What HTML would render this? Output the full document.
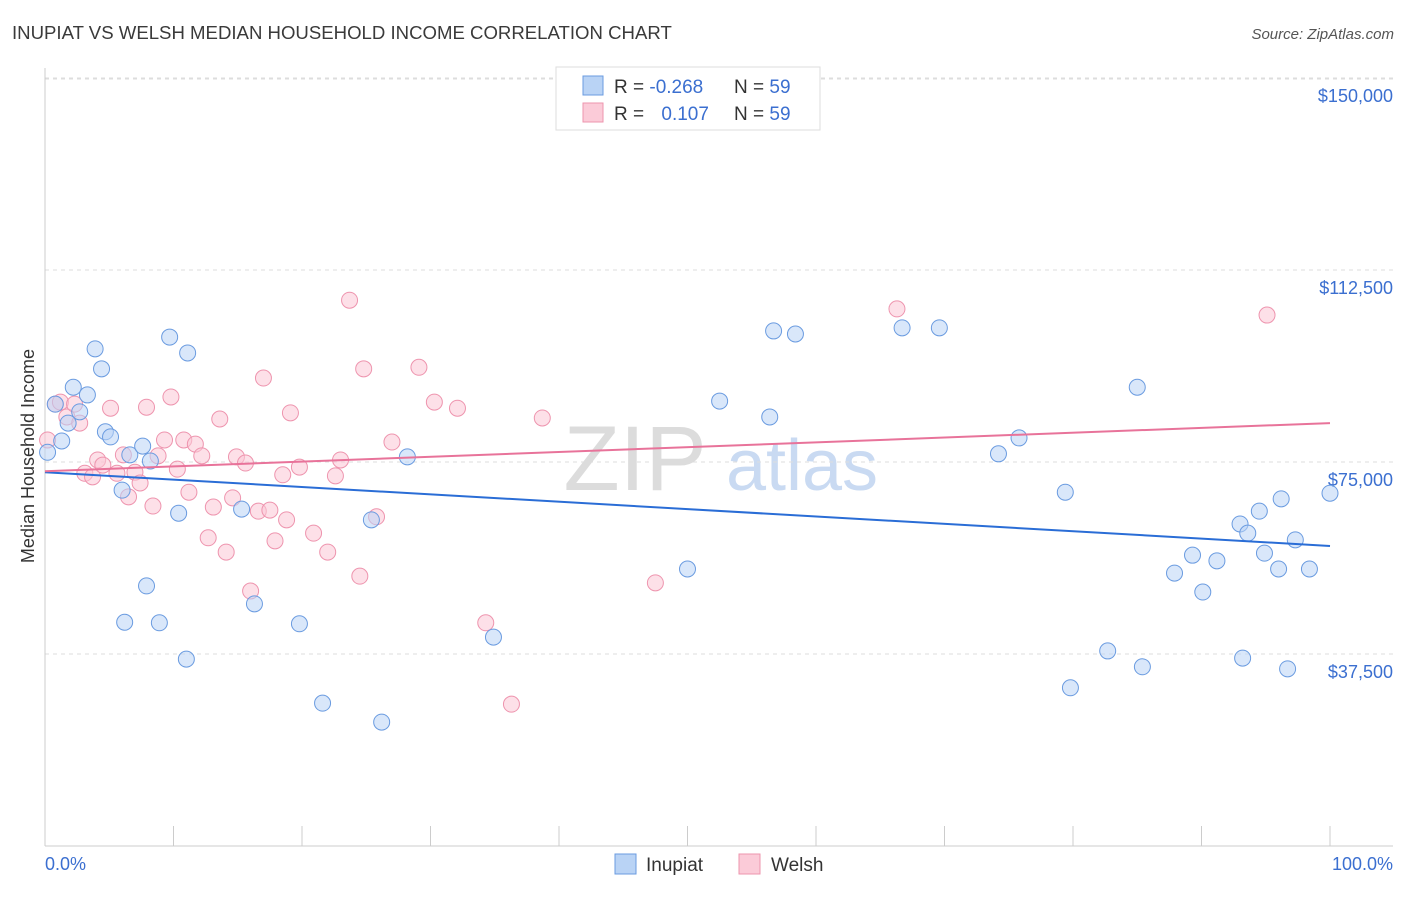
<!DOCTYPE html>
<html><head><meta charset="utf-8"><style>
body{margin:0;background:#fff;font-family:"Liberation Sans",sans-serif;}
svg text{font-family:"Liberation Sans",sans-serif;}
</style></head><body>
<svg width="1406" height="892" viewBox="0 0 1406 892" xmlns="http://www.w3.org/2000/svg">
<text x="12" y="39" font-size="18.6" fill="#3a3a3a">INUPIAT VS WELSH MEDIAN HOUSEHOLD INCOME CORRELATION CHART</text>
<text x="1394" y="39" font-size="15" fill="#555" text-anchor="end" font-style="italic">Source: ZipAtlas.com</text>
<g>
<text x="635" y="490" font-size="92" fill="#dcdcdc" font-family="Liberation Serif" text-anchor="middle">ZIP</text>
<text x="802" y="490" font-size="72" fill="#c9daf2" text-anchor="middle">atlas</text>
</g>
<g id="grid"></g>
<g id="axes"></g>
<g id="marks"></g>
<text transform="translate(34,456) rotate(-90)" font-size="18" fill="#333" text-anchor="middle">Median Household Income</text>
<text x="45" y="870" font-size="18" fill="#3b6fd0">0.0%</text>
<text x="1393" y="870" font-size="18" fill="#3b6fd0" text-anchor="end">100.0%</text>
<g>
<rect x="556" y="67" width="264" height="63" fill="#fff" stroke="#ddd"/>
<rect x="583" y="76" width="20" height="19" fill="#b9d3f5" stroke="#6a9be0"/>
<rect x="583" y="103" width="20" height="19" fill="#fbcbd8" stroke="#ee94ae"/>
<text x="614" y="93" font-size="19" fill="#333">R = <tspan fill="#3b6fd0">-0.268</tspan></text>
<text x="734" y="93" font-size="19" fill="#333">N = <tspan fill="#3b6fd0">59</tspan></text>
<text x="614" y="120" font-size="19" fill="#333">R = <tspan fill="#3b6fd0" dx="12">0.107</tspan></text>
<text x="734" y="120" font-size="19" fill="#333">N = <tspan fill="#3b6fd0">59</tspan></text>
</g>
<g>
<rect x="615" y="854" width="21" height="20" fill="#b9d3f5" stroke="#6a9be0"/>
<text x="646" y="871" font-size="19" fill="#333">Inupiat</text>
<rect x="739" y="854" width="21" height="20" fill="#fbcbd8" stroke="#ee94ae"/>
<text x="771" y="871" font-size="19" fill="#333">Welsh</text>
</g>
</svg>
<script>
const yTicks=[37500,75000,112500,150000];
const yTickLabels=["$37,500","$75,000","$112,500","$150,000"];
const xTicks=[0,10,20,30,40,50,60,70,80,90,100];
const inupiatX=[0.2,0.8,1.3,1.8,2.2,2.7,3.3,3.9,4.4,4.7,5.1,6.0,6.2,6.6,7.6,7.9,8.2,8.9,9.7,10.4,11.0,11.1,15.3,16.3,19.8,21.6,25.4,26.2,28.2,34.9,50.0,52.5,56.4,56.7,58.4,66.7,69.6,74.2,75.8,79.4,79.8,82.7,85.0,85.4,87.9,89.3,90.1,91.2,93.0,93.2,93.6,94.5,94.9,96.0,96.2,96.7,97.3,98.4,100];
const inupiatY=[76.9,86.3,79.1,82.6,89.6,84.8,88.1,97.1,93.2,80.9,79.9,69.5,43.7,76.4,78.1,50.8,75.2,43.6,99.4,65.0,36.5,96.3,65.8,47.3,43.4,27.9,63.7,24.2,76.0,40.8,54.1,86.9,83.8,100.6,100.0,101.2,101.2,76.6,79.7,69.1,30.9,38.1,89.6,35.0,53.3,56.8,49.6,55.7,62.9,36.7,61.1,65.4,57.2,54.1,67.8,34.6,59.8,54.1,68.9];
const welshX=[0.2,0.8,1.2,1.7,2.3,2.7,3.1,3.7,4.1,4.5,5.1,5.6,6.1,6.5,7.0,7.4,7.9,8.4,8.8,9.3,9.8,10.3,10.8,11.2,11.7,12.2,12.7,13.1,13.6,14.1,14.6,14.9,15.6,16.0,16.6,17.0,17.5,17.9,18.5,18.8,19.1,19.8,20.9,22.0,22.6,23.0,23.7,24.5,24.8,25.8,27.0,29.1,30.3,32.1,34.3,36.3,38.7,47.5,66.3,95.1];
const welshY=[79.3,86.3,86.7,83.8,86.3,82.6,72.8,72.1,75.4,74.4,85.5,72.8,76.4,68.2,73.0,70.9,85.7,66.4,76.2,79.3,87.7,73.6,79.3,69.1,78.5,76.2,60.2,66.2,83.4,57.4,68.0,76.0,74.8,49.8,65.4,91.4,65.6,59.6,72.5,63.7,84.6,74.0,61.1,57.4,72.3,75.4,106.6,52.7,93.2,64.3,78.9,93.5,86.7,85.5,43.6,27.7,83.6,51.4,104.9,103.7];
const inupiatTrend=[73.0,58.6];
const welshTrend=[73.2,82.6];
const NS="http://www.w3.org/2000/svg";
const X0=45,X1=1330,Y0=846,PPK=192/37.5;
const sx=v=>X0+(X1-X0)*v/100;
const sy=v=>Y0-v*PPK;
function mk(t,a,p){const e=document.createElementNS(NS,t);for(const k in a)e.setAttribute(k,a[k]);p.appendChild(e);return e;}
const grid=document.getElementById('grid'),axes=document.getElementById('axes'),marks=document.getElementById('marks');
yTicks.forEach((t,i)=>{const y=sy(t/1000);
const l=mk('line',{x1:X0,x2:1393,y1:y,y2:y,stroke:'#ddd','stroke-dasharray':'4,4'},grid);


const tx=mk('text',{x:1393,y:y+24,'font-size':18,fill:'#3b6fd0','text-anchor':'end'},axes);tx.textContent=yTickLabels[i];

});
const topGrid=mk('line',{x1:X0,x2:1393,y1:79,y2:79,stroke:'#ddd','stroke-dasharray':'4,4'},grid);


const ya=mk('line',{x1:X0,x2:X0,y1:68,y2:Y0,stroke:'#ccc'},axes);


const xa=mk('line',{x1:X0,x2:1393,y1:Y0,y2:Y0,stroke:'#ccc'},axes);


xTicks.forEach(t=>{const x=sx(t);const l=mk('line',{x1:x,x2:x,y1:Y0,y2:826,stroke:'#ccc'},axes);

});
function pts(xs,ys,fill,stroke,name){xs.forEach((v,i)=>{const c=mk('circle',{cx:sx(v),cy:sy(ys[i]),r:8,fill:fill,'fill-opacity':0.55,stroke:stroke,'stroke-width':1},marks);

});}
pts(welshX,welshY,'#fbc6d6','#ee94ae','welsh-point');
pts(inupiatX,inupiatY,'#b9d3f5','#6a9be0','inupiat-point');
const tb=mk('line',{x1:sx(0),x2:sx(100),y1:sy(inupiatTrend[0]),y2:sy(inupiatTrend[1]),stroke:'#2a6dd6','stroke-width':2},marks);


const tp=mk('line',{x1:sx(0),x2:sx(100),y1:sy(welshTrend[0]),y2:sy(welshTrend[1]),stroke:'#e8739a','stroke-width':2},marks);


</script>
</body></html>
